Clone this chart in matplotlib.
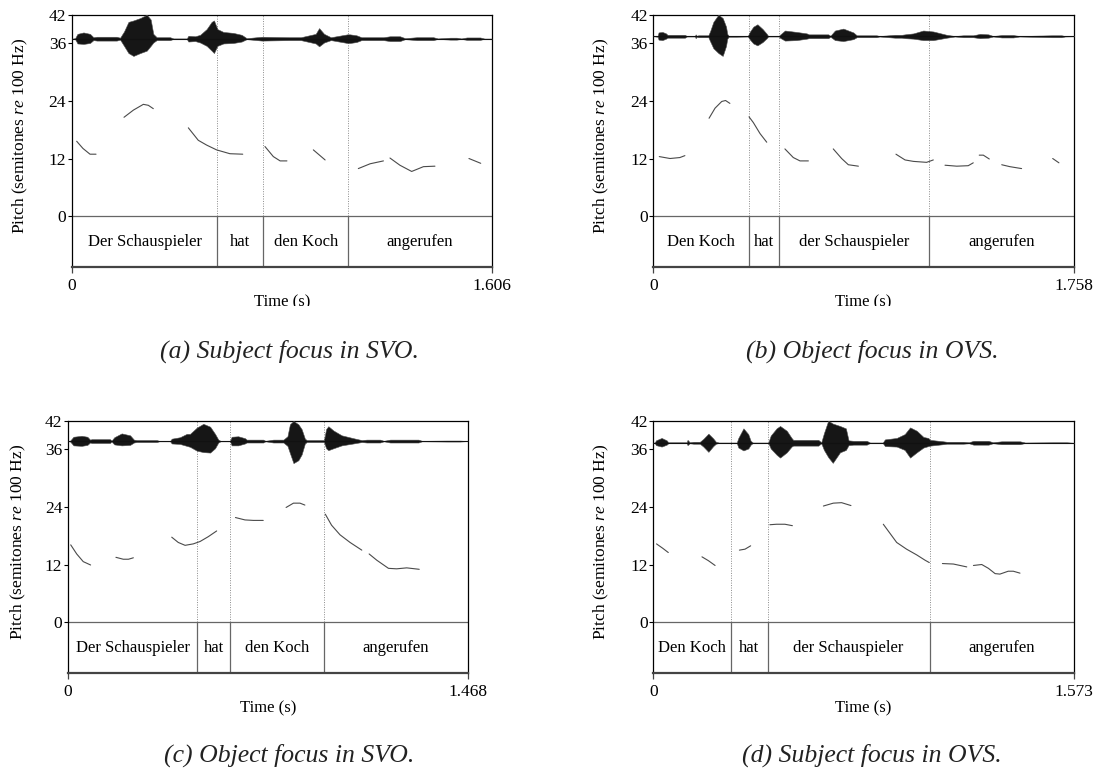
import matplotlib
matplotlib.use("Agg")
import matplotlib.pyplot as plt
from matplotlib.transforms import Bbox, TransformedBbox, blended_transform_factory

plt.rcParams["font.family"] = ["Liberation Serif", "DejaVu Serif"]
plt.rcParams["mathtext.fontset"] = "custom"
plt.rcParams["mathtext.rm"] = "Liberation Serif"
plt.rcParams["mathtext.it"] = "Liberation Serif:italic"

# ---- (a) Subject focus in SVO ----
A_DUR = 1.606
A_WORDS = ["Der Schauspieler", "hat", "den Koch", "angerufen"]
A_BOUNDS = [0.557, 0.732, 1.058]
A_BASE = 37.0
A_PITCH = [
    [(0.019, 15.6), (0.043, 14.1), (0.070, 12.9), (0.093, 12.9)],
    [(0.200, 20.6), (0.236, 22.1), (0.274, 23.3), (0.293, 23.1), (0.312, 22.4)],
    [(0.446, 18.4), (0.484, 15.8), (0.516, 14.8), (0.554, 13.8), (0.605, 13.0), (0.654, 12.9)],
    [(0.739, 14.5), (0.771, 12.4), (0.797, 11.5), (0.823, 11.5)],
    [(0.924, 13.8), (0.969, 11.7)],
    [(1.096, 9.9), (1.141, 10.9), (1.192, 11.5)],
    [(1.217, 12.1), (1.255, 10.6), (1.300, 9.3), (1.345, 10.3), (1.389, 10.4)],
    [(1.519, 12.0), (1.564, 11.0)],
]
A_WAVE = [
    (0.000, 0, 0), (0.013, 0.1, 0.1), (0.022, 1.0, 1.0), (0.045, 1.3, 1.1), (0.070, 1.0, 0.9),
    (0.083, 0.3, 0.3), (0.096, 0.4, 0.4), (0.172, 0.4, 0.4), (0.185, 0.2, 0.2), (0.200, 1.5, 1.5),
    (0.217, 3.5, 3.0), (0.236, 3.8, 3.6), (0.262, 4.3, 3.0), (0.287, 5.0, 2.5), (0.302, 4.0, 1.5),
    (0.312, 1.0, 0.8), (0.325, 0.3, 0.3), (0.376, 0.3, 0.3), (0.389, 0.05, 0.05), (0.440, 0.05, 0.05),
    (0.446, 0.6, 0.6), (0.472, 0.5, 0.5), (0.491, 0.8, 0.8), (0.516, 2.0, 1.5), (0.535, 3.5, 2.5),
    (0.544, 3.8, 3.0), (0.557, 2.0, 1.5), (0.580, 1.4, 1.0), (0.618, 1.2, 0.9), (0.650, 0.8, 0.6),
    (0.669, 0.1, 0.1), (0.727, 0.4, 0.4), (0.830, 0.3, 0.3), (0.876, 0.3, 0.3), (0.933, 1.0, 1.0),
    (0.946, 2.2, 1.6), (0.965, 1.0, 0.8), (0.991, 0.3, 0.3), (1.054, 0.9, 0.9), (1.064, 0.9, 0.9),
    (1.089, 0.7, 0.7), (1.108, 0.3, 0.3), (1.192, 0.3, 0.3), (1.217, 0.5, 0.5), (1.255, 0.5, 0.5),
    (1.275, 0.1, 0.1), (1.319, 0.3, 0.3), (1.383, 0.3, 0.3), (1.400, 0.05, 0.05), (1.447, 0.2, 0.2),
    (1.472, 0.2, 0.2), (1.490, 0.05, 0.05), (1.511, 0.25, 0.25), (1.562, 0.25, 0.25), (1.580, 0, 0),
    (1.606, 0, 0),
]

# ---- (b) Object focus in OVS ----
B_DUR = 1.758
B_WORDS = ["Den Koch", "hat", "der Schauspieler", "angerufen"]
B_BOUNDS = [0.401, 0.527, 1.154]
B_BASE = 37.5
B_PITCH = [
    [(0.025, 12.4), (0.070, 12.0), (0.111, 12.2), (0.132, 12.6)],
    [(0.233, 20.4), (0.258, 22.5), (0.286, 23.9), (0.302, 24.1), (0.320, 23.5)],
    [(0.400, 20.7), (0.418, 19.5), (0.446, 17.2), (0.474, 15.4)],
    [(0.550, 14.0), (0.585, 12.2), (0.613, 11.5), (0.648, 11.5)],
    [(0.752, 14.0), (0.787, 12.0), (0.815, 10.7), (0.857, 10.4)],
    [(1.014, 12.9), (1.052, 11.7), (1.087, 11.4), (1.142, 11.2), (1.170, 11.7)],
    [(1.219, 10.6), (1.268, 10.4), (1.316, 10.5), (1.337, 11.1)],
    [(1.362, 12.7), (1.379, 12.7), (1.404, 11.9)],
    [(1.456, 10.7), (1.490, 10.3), (1.539, 9.9)],
    [(1.669, 12.0), (1.695, 11.1)],
]
B_WAVE = [
    (0.000, 0, 0), (0.018, 0.1, 0.1), (0.022, 0.8, 0.7), (0.038, 0.9, 0.8), (0.053, 0.6, 0.5),
    (0.059, 0.3, 0.3), (0.132, 0.3, 0.3), (0.140, 0.05, 0.05), (0.174, 0.05, 0.05), (0.177, 0.4, 0.4),
    (0.181, 0.1, 0.1), (0.188, 0.2, 0.2), (0.230, 0.2, 0.2), (0.237, 1.0, 1.0), (0.251, 3.0, 2.5),
    (0.272, 4.5, 3.5), (0.290, 3.8, 4.1), (0.304, 2.0, 2.0), (0.309, 0.5, 0.5), (0.315, 0.1, 0.1),
    (0.348, 0.1, 0.1), (0.395, 0.05, 0.05), (0.404, 1.0, 0.7), (0.418, 2.0, 1.5), (0.435, 2.5, 1.9),
    (0.457, 1.5, 1.2), (0.474, 0.5, 0.4), (0.480, 0.05, 0.05), (0.525, 0.05, 0.05), (0.529, 0.3, 0.3),
    (0.550, 1.2, 0.9), (0.599, 0.9, 0.8), (0.641, 0.6, 0.5), (0.650, 0.4, 0.4), (0.731, 0.4, 0.4),
    (0.740, 0.1, 0.1), (0.759, 1.2, 0.8), (0.794, 1.6, 1.0), (0.836, 0.8, 0.6), (0.850, 0.2, 0.2),
    (0.933, 0.2, 0.2), (0.945, 0.05, 0.05), (1.010, 0.3, 0.3), (1.038, 0.3, 0.3), (1.052, 0.4, 0.4),
    (1.087, 0.6, 0.5), (1.128, 1.2, 0.8), (1.170, 1.0, 0.8), (1.226, 0.3, 0.3), (1.260, 0.05, 0.05),
    (1.295, 0.2, 0.2), (1.337, 0.2, 0.2), (1.365, 0.5, 0.4), (1.400, 0.4, 0.3), (1.420, 0.05, 0.05),
    (1.456, 0.25, 0.25), (1.504, 0.25, 0.25), (1.530, 0.05, 0.05), (1.665, 0.2, 0.2), (1.706, 0.2, 0.2),
    (1.720, 0.05, 0.05), (1.758, 0, 0),
]

# ---- (c) Object focus in SVO ----
C_DUR = 1.468
C_WORDS = ["Der Schauspieler", "hat", "den Koch", "angerufen"]
C_BOUNDS = [0.475, 0.596, 0.941]
C_BASE = 37.75
C_PITCH = [
    [(0.010, 16.1), (0.032, 14.2), (0.056, 12.6), (0.083, 11.9)],
    [(0.176, 13.5), (0.203, 13.1), (0.222, 13.1), (0.240, 13.4)],
    [(0.381, 17.7), (0.405, 16.6), (0.430, 16.0), (0.460, 16.3), (0.485, 16.8), (0.515, 17.8), (0.546, 19.0)],
    [(0.615, 21.8), (0.650, 21.3), (0.681, 21.2), (0.717, 21.2)],
    [(0.801, 23.9), (0.828, 24.8), (0.852, 24.8), (0.870, 24.4)],
    [(0.945, 22.5), (0.968, 20.2), (0.999, 18.2), (1.036, 16.6), (1.079, 15.0)],
    [(1.106, 14.2), (1.134, 12.9), (1.177, 11.2), (1.207, 11.1), (1.244, 11.3), (1.290, 11.0)],
]
C_WAVE = [
    (0.000, 0, 0), (0.008, 0.1, 0.1), (0.011, 0.3, 0.3), (0.020, 0.9, 0.9), (0.050, 1.1, 1.0),
    (0.071, 0.9, 0.8), (0.081, 0.3, 0.3), (0.087, 0.4, 0.4), (0.154, 0.4, 0.4), (0.160, 0.1, 0.1),
    (0.170, 0.8, 0.7), (0.197, 1.6, 0.9), (0.228, 1.2, 0.8), (0.242, 0.3, 0.3), (0.252, 0.2, 0.2),
    (0.326, 0.2, 0.2), (0.335, 0.05, 0.05), (0.375, 0.05, 0.05), (0.381, 0.5, 0.5), (0.411, 0.8, 0.6),
    (0.436, 1.5, 1.0), (0.448, 1.5, 1.2), (0.473, 2.8, 2.0), (0.497, 3.6, 2.3), (0.522, 3.0, 2.4),
    (0.540, 1.5, 1.5), (0.552, 0.3, 0.3), (0.560, 0.05, 0.05), (0.595, 0.05, 0.05), (0.601, 0.9, 0.9),
    (0.625, 1.0, 0.9), (0.650, 0.6, 0.5), (0.656, 0.3, 0.3), (0.717, 0.3, 0.3), (0.725, 0.05, 0.05),
    (0.754, 0.3, 0.3), (0.791, 0.3, 0.3), (0.806, 1.0, 1.0), (0.815, 3.5, 2.5), (0.828, 4.2, 4.6),
    (0.846, 3.5, 4.0), (0.858, 2.5, 2.8), (0.870, 0.5, 0.5), (0.877, 0.2, 0.2), (0.940, 0.2, 0.2),
    (0.948, 2.5, 1.5), (0.956, 3.1, 1.9), (0.975, 2.2, 1.5), (1.005, 1.2, 0.9), (1.048, 0.6, 0.5),
    (1.079, 0.2, 0.2), (1.097, 0.3, 0.3), (1.146, 0.3, 0.3), (1.160, 0.05, 0.05), (1.183, 0.3, 0.3),
    (1.287, 0.3, 0.3), (1.300, 0.05, 0.05), (1.391, 0.1, 0.1), (1.440, 0.1, 0.1), (1.468, 0, 0),
]

# ---- (d) Subject focus in OVS ----
D_DUR = 1.573
D_WORDS = ["Den Koch", "hat", "der Schauspieler", "angerufen"]
D_BOUNDS = [0.290, 0.427, 1.033]
D_BASE = 37.4
D_PITCH = [
    [(0.012, 16.3), (0.035, 15.4), (0.056, 14.5)],
    [(0.182, 13.6), (0.206, 12.8), (0.231, 11.8)],
    [(0.322, 15.0), (0.343, 15.2), (0.364, 15.9)],
    [(0.436, 20.3), (0.461, 20.4), (0.492, 20.4), (0.520, 20.1)],
    [(0.636, 24.2), (0.673, 24.8), (0.704, 24.9), (0.739, 24.3)],
    [(0.860, 20.4), (0.885, 18.5), (0.910, 16.6), (0.947, 15.2), (0.985, 14.0), (1.016, 12.9), (1.032, 12.4)],
    [(1.081, 12.2), (1.122, 12.1), (1.172, 11.5)],
    [(1.197, 11.8), (1.228, 12.0), (1.253, 11.2), (1.278, 10.1), (1.296, 10.0), (1.327, 10.6),
     (1.346, 10.6), (1.371, 10.2)],
]
D_WAVE = [
    (0.000, 0, 0), (0.006, 0.1, 0.1), (0.010, 0.5, 0.5), (0.031, 1.0, 0.8), (0.050, 0.5, 0.4),
    (0.056, 0.1, 0.1), (0.125, 0.1, 0.1), (0.128, 0.6, 0.5), (0.136, 0.1, 0.1), (0.150, 0.2, 0.2),
    (0.174, 0.2, 0.2), (0.187, 0.8, 0.8), (0.206, 1.9, 1.9), (0.224, 0.9, 0.7), (0.234, 0.2, 0.2),
    (0.245, 0.05, 0.05), (0.312, 0.05, 0.05), (0.318, 1.0, 1.0), (0.337, 3.0, 1.6), (0.355, 1.8, 1.2),
    (0.364, 0.4, 0.4), (0.372, 0.05, 0.05), (0.430, 0.05, 0.05), (0.439, 1.5, 1.2), (0.461, 3.0, 2.5),
    (0.474, 3.5, 3.1), (0.499, 2.5, 2.0), (0.517, 1.0, 0.8), (0.523, 0.6, 0.6), (0.617, 0.6, 0.6),
    (0.628, 0.1, 0.1), (0.638, 2.0, 1.5), (0.654, 4.6, 3.0), (0.671, 4.0, 4.2), (0.698, 3.5, 2.0),
    (0.720, 3.0, 1.5), (0.730, 0.5, 0.5), (0.748, 0.4, 0.4), (0.798, 0.4, 0.4), (0.810, 0.05, 0.05),
    (0.858, 0.05, 0.05), (0.866, 0.7, 0.7), (0.910, 1.0, 0.8), (0.940, 1.8, 1.5), (0.960, 3.2, 3.1),
    (0.985, 2.5, 2.0), (1.010, 1.2, 1.0), (1.028, 1.0, 0.7), (1.035, 0.6, 0.6), (1.084, 0.3, 0.3),
    (1.097, 0.2, 0.2), (1.159, 0.2, 0.2), (1.180, 0.1, 0.1), (1.197, 0.4, 0.4), (1.253, 0.4, 0.4),
    (1.270, 0.1, 0.1), (1.302, 0.3, 0.3), (1.371, 0.3, 0.3), (1.390, 0.05, 0.05), (1.496, 0.1, 0.1),
    (1.546, 0.1, 0.1), (1.573, 0, 0),
]

CAPTIONS = ["(a) Subject focus in SVO.", "(b) Object focus in OVS.",
            "(c) Object focus in SVO.", "(d) Subject focus in OVS."]

Y_TICKS = [0, 12, 24, 36, 42]
Y_TOP = 42
Y_BOTTOM = -10.57

W, H = 1097, 774
FS = 12


def draw_panel(fig, rect, dur, words, bounds, base, pitch, wave, clip_xlabel=None):
    # rect in pixels: left, top, right, bottom (from top-left corner)
    l, t, r, b = rect
    ax = fig.add_axes([l / W, 1 - b / H, (r - l) / W, (b - t) / H])
    ax.set_xlim(0, dur)
    ax.set_ylim(Y_BOTTOM, Y_TOP)

    # waveform strip on top
    wt = [p[0] for p in wave]
    up = [base + p[1] for p in wave]
    dn = [base - p[2] for p in wave]
    ax.fill_between(wt, dn, up, color="#161616", linewidth=0.4, edgecolor="#505050", zorder=3)
    ax.axhline(base, color="#111111", lw=0.8, zorder=3)

    # pitch track
    for seg in pitch:
        ax.plot([p[0] for p in seg], [p[1] for p in seg], color="#4a4a4a", lw=0.8,
                solid_capstyle="round", zorder=4)

    # interval boundaries: dotted above the tier, solid inside it
    for x in bounds:
        ax.plot([x, x], [0, Y_TOP], color="#8a8a8a", lw=0.7, ls=(0, (1, 1.5)), zorder=2)
        ax.plot([x, x], [Y_BOTTOM, 0], color="#666666", lw=0.9, zorder=2)
    ax.axhline(0, color="#666666", lw=0.9, zorder=2)

    edges = [0] + bounds + [dur]
    for i, w in enumerate(words):
        ax.text((edges[i] + edges[i + 1]) / 2, -5.35, w, ha="center", va="center", fontsize=FS)

    for side in ["top", "right", "left"]:
        ax.spines[side].set_linewidth(0.9)
    ax.spines["bottom"].set_linewidth(1.6)
    ax.spines["bottom"].set_color("#444444")

    ax.set_yticks(Y_TICKS)
    ax.set_yticklabels([str(v) for v in Y_TICKS])
    ax.set_xticks([0, dur])
    ax.set_xticklabels(["0", f"{dur:.3f}"])
    ax.tick_params(axis="y", direction="out", length=3, width=0.8, pad=1, labelsize=12.5)
    ax.tick_params(axis="x", direction="out", length=4, width=0.9, pad=4, labelsize=12.5,
                   color="#444444")

    ax.set_ylabel(r"Pitch (semitones $\mathit{re}$ 100 Hz)", fontsize=12.5)
    ax.yaxis.set_label_coords(-0.10, 0.52)

    trans = blended_transform_factory(ax.transData, ax.transAxes)
    xl = ax.text(dur / 2, -0.142, "Time (s)", transform=trans, ha="center", va="center",
                 fontsize=FS)
    if clip_xlabel is not None:
        xl.set_clip_on(True)
        xl.set_clip_box(TransformedBbox(Bbox.from_extents(0, 1 - clip_xlabel / H, 1, 1),
                                        fig.transFigure))
    return ax


fig = plt.figure(figsize=(W / 100, H / 100), dpi=100)
fig.patch.set_facecolor("white")

draw_panel(fig, (71.7, 14.7, 491.7, 266.7), A_DUR, A_WORDS, A_BOUNDS, A_BASE, A_PITCH, A_WAVE,
           clip_xlabel=306)
draw_panel(fig, (653.3, 14.7, 1074, 266.7), B_DUR, B_WORDS, B_BOUNDS, B_BASE, B_PITCH, B_WAVE,
           clip_xlabel=306)
draw_panel(fig, (68, 420.7, 467.7, 672.7), C_DUR, C_WORDS, C_BOUNDS, C_BASE, C_PITCH, C_WAVE)
draw_panel(fig, (653.3, 420.7, 1074, 672.7), D_DUR, D_WORDS, D_BOUNDS, D_BASE, D_PITCH, D_WAVE)

cap_pos = [(289, 358), (872, 358), (289, 762), (872, 762)]
for (cx, cy), cap in zip(cap_pos, CAPTIONS):
    fig.text(cx / W, 1 - cy / H, cap, ha="center", va="baseline", fontsize=18.5,
             style="italic", color="#222222")

fig.savefig("out.png", dpi=100, facecolor="white")
